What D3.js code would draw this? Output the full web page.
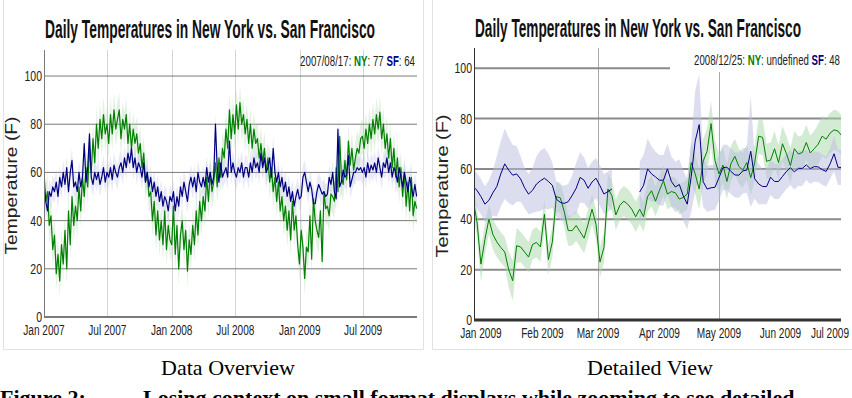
<!DOCTYPE html>
<html>
<head>
<meta charset="utf-8">
<script src="https://cdn.jsdelivr.net/npm/d3@7"></script>
<style>
  body { margin: 0; background: #fff; }
  .narrow { font-family: "Liberation Sans", Arial, sans-serif; }
  .serif { font-family: "Liberation Serif", "Times New Roman", serif; }
</style>
</head>
<body>
<svg id="fig" width="852" height="398"></svg>
<script>
// ---- data ----

// overview: one sample every 5 days from Jan 1 2007
const overviewStart = "2007-01-01";
const overviewStep = 5;
const nyOverview = [
  60, 48, 52, 38, 42, 28,   34, 18, 26, 15, 30, 22,   36, 20, 44, 30, 50, 38,
  46, 40, 54, 44, 58, 50,   62, 54, 70, 60, 74, 64,   80, 70, 82, 74, 84, 76,
  80, 72, 84, 76, 86, 78, 82,   86, 74, 82, 78, 84, 72,   80, 70, 78, 72, 76, 68,
  72, 62, 68, 56, 60, 50,   52, 40, 48, 34, 44, 32,   40, 30, 44, 28, 38, 32,
  30, 46, 26, 38, 20, 34,   40, 28, 36, 19, 32, 26,   38, 30, 44, 34, 48, 40,
  50, 44, 58, 48, 60, 52,   56, 64, 54, 66, 58, 70,   66, 78, 70, 86, 74, 84,
  76, 88, 78, 89, 80, 84, 76,   82, 72, 80, 70, 78, 72,   74, 66, 72, 64, 70, 60,
  66, 56, 62, 52, 58, 48,   56, 44, 50, 40, 46, 36,   44, 32, 48, 36, 42, 30,
  22, 36, 29, 16, 29, 27,   42, 24, 49, 40, 36, 33,   44, 23, 52, 45, 46, 42,
  51, 50, 48, 62, 52, 75,   58, 55, 65, 57, 73, 63,   70, 61, 66, 70, 68, 74,
  75, 70, 78, 72, 80, 74, 82,   76, 84, 78, 85, 74, 80,   70, 76, 66, 74, 62, 70,
  58, 66, 54, 62, 50, 60,   46, 56, 44, 58, 42, 48,   45
];
const sfOverview = [
  55, 48, 44, 52, 50, 54,   52, 56, 50, 58, 54, 60,   55, 62, 52, 60, 65, 54,
  56, 52, 60, 54, 58, 72,   56, 62, 76, 58, 55, 60,   57, 60, 55, 58, 62, 56,
  60, 58, 62, 57, 63, 60, 58,   62, 64, 60, 66, 62, 68,   64, 70, 62, 66, 60, 64,
  62, 58, 64, 56, 60, 54,   58, 52, 56, 50, 54, 48,   52, 46, 50, 48, 44, 50,
  48, 52, 44, 50, 46, 54,   50, 56, 52, 48, 55, 58,   54, 58, 52, 60, 56, 54,
  58, 54, 62, 56, 60, 55,   58, 80, 62, 56, 64, 58,   60, 62, 58, 73, 60, 64,
  60, 58, 62, 60, 64, 58, 62,   62, 58, 64, 60, 66, 62,   64, 60, 68, 62, 66, 60,
  62, 66, 58, 70, 60, 56,   60, 54, 58, 52, 56, 50,   54, 48, 52, 46, 50, 53,
  49, 50, 58, 60, 56, 52,   56, 53, 47, 47, 52, 55,   53, 51, 52, 50, 51, 58,
  55, 60, 52, 49, 78, 54,   56, 61, 58, 59, 67, 54,   57, 60, 60, 62, 61, 62,
  60, 62, 58, 64, 60, 63, 61,   64, 60, 66, 62, 58, 64,   62, 66, 60, 64, 58, 62,
  60, 56, 62, 58, 54, 60,   56, 52, 58, 54, 50, 55,   50
];
// faint error band half-widths in the overview
const nyOverviewBand = 7;
const sfOverviewBand = 5;

// detailed view: one sample every 2 days from Dec 28 2008
const detailStart = "2008-12-28";
const detailStep = 2;
const nyDetail = [
  48, 39, 22.2, 32, 40, 34, 31, 28.8, 27, 20, 15.6, 29.5, 29, 27, 25, 30, 30.8, 29,
  42, 24, 31, 49, 48.5, 43, 35.5, 35.5, 37.5, 35, 32.5, 38, 44, 38, 23, 28.8, 52, 49.5,
  41.7, 45.5, 47.2, 46, 44, 41, 44, 41, 49, 51.3, 47.2, 51.5, 55.3, 50, 51, 50.5, 48, 48.7,
  50, 62.5, 58, 52, 63, 67, 78, 63.2, 58, 61.5, 55, 62, 65, 61, 59.5, 62.5, 56.5, 62.5,
  73, 72.5, 63, 63.5, 68, 62.5, 70, 66, 61.3, 68, 65.9, 66.5, 70.5, 66.3, 68, 69.8, 73, 71.8,
  74.2, 75.5, 75, 73
];
const sfDetail = [
  53, 51.5, 49, 46, 47.5, 50.5, 53, 58, 62, 59.5, 57.5, 58, 56, 52.5, 50, 51.5, 54, 55.3,
  56.3, 55, 53.5, 48, 46.7, 46.3, 47, 49.5, 52.3, 56.6, 55.5, 52.3, 54.8, 56.3, 53.3, 50, 51, 52,
  null, null, null, null, null, null, 50.8, 53.5, 60, 58, 56.8, 55.5, 55.5, 60, 55, 52.8, 53.8, 49.3,
  46, 57, 71, 77.6, 55, 52, 52.5, 52.7, 56.5, 60.5, 60.7, 59, 57.6, 57.5, 59.2, 59.5, 67, 56.1,
  54, 53, 53, 56.7, 55, 55, 57, 59, 60.5, 58.8, 60.2, 60.2, 61.6, 60.1, 60.9, 60.8, 59.7, 59,
  62, 66, 60.6, 60.6
];
const nyDetailErr = [
  6, 6, 7, 6, 6, 6, 6, 6, 6, 7, 8, 7, 6, 6, 6, 6, 6, 6,
  6, 6, 6, 6, 6, 6, 6, 6, 6, 6, 6, 6, 6, 6, 6, 6, 6, 6,
  6, 6, 6, 6, 6, 6, 6, 6, 6, 6, 6, 6, 6, 6, 6, 6, 6, 6,
  6, 8, 8, 8, 9, 9, 9, 8, 8, 7, 7, 7, 7, 7, 7, 7, 7, 7,
  7, 7, 7, 7, 7, 7, 7, 7, 7, 7, 7, 7, 7, 7, 7, 8, 8, 8,
  8, 8, 8, 8
];
const sfDetailErr = [
  7, 7, 7, 7, 8, 9, 12, 13, 14, 13, 12, 11, 9, 8, 8, 9, 11, 12,
  12, 11, 9, 7, 7, 7, 7, 8, 10, 10, 9, 8, 8, 8, 8, 8, 8, 8,
  8, 8, 8, 8, 8, 8, 12, 12, 12, 11, 10, 10, 10, 10, 10, 10, 10, 10,
  10, 14, 20, 20, 10, 9, 9, 9, 9, 9, 9, 9, 9, 9, 9, 9, 22, 8,
  8, 7, 7, 7, 7, 7, 7, 7, 7, 7, 7, 7, 6, 6, 6, 6, 6, 6,
  6, 7, 7, 7
];

const yTicks = [0, 20, 40, 60, 80, 100];
const overviewTicks = ["2007-01-01", "2007-07-01", "2008-01-01", "2008-07-01", "2009-01-01", "2009-07-01"];
const overviewTickLabels = ["Jan 2007", "Jul 2007", "Jan 2008", "Jul 2008", "Jan 2009", "Jul 2009"];
const detailTicks = ["2009-01-01", "2009-02-01", "2009-03-01", "2009-04-01", "2009-05-01", "2009-06-01", "2009-07-01"];
const detailTickLabels = ["Jan 2009", "Feb 2009", "Mar 2009", "Apr 2009", "May 2009", "Jun 2009", "Jul 2009"];
const detailGridTicks = ["2009-03-01", "2009-05-01"];

const title = "Daily Temperatures in New York vs. San Francisco";
const nyColor = "#008000";
const sfColor = "#000080";

const parse = d3.timeParse("%Y-%m-%d");
const parseHour = d3.timeParse("%Y-%m-%d %H");

function toRows(start, step, ny, sf, nyErr, sfErr) {
  const t0 = parse(start);
  return ny.map((v, i) => ({
    date: d3.timeDay.offset(t0, i * step),
    ny: v,
    sf: sf[i],
    nyErr: Array.isArray(nyErr) ? nyErr[i] : nyErr,
    sfErr: Array.isArray(sfErr) ? sfErr[i] : sfErr
  }));
}

// squeeze a text horizontally, the figure uses a condensed face
function squeeze(sel, factor) {
  sel.each(function() {
    const w = this.getComputedTextLength();
    d3.select(this)
      .attr("textLength", w * factor)
      .attr("lengthAdjust", "spacingAndGlyphs");
  });
}

const overviewRows = toRows(overviewStart, overviewStep, nyOverview, sfOverview, nyOverviewBand, sfOverviewBand);
const detailRows = toRows(detailStart, detailStep, nyDetail, sfDetail, nyDetailErr, sfDetailErr);

const svg = d3.select("#fig");

// panel frames
svg.append("path")
  .attr("d", "M3.5,0V349.5H423.5V0")
  .attr("fill", "none").attr("stroke", "#e2e2e2");
svg.append("path")
  .attr("d", "M432.5,0V349.5H852")
  .attr("fill", "none").attr("stroke", "#e2e2e2");

function drawPanel(cfg) {
  const g = svg.append("g");
  const x = d3.scaleTime().domain(cfg.xDomain).range([cfg.left, cfg.right]);
  const y = d3.scaleLinear().domain([0, cfg.yMax]).range([cfg.bottom, cfg.top]);

  const clipId = "clip" + cfg.id;
  svg.append("clipPath").attr("id", clipId)
    .append("rect")
    .attr("x", cfg.left).attr("y", cfg.top)
    .attr("width", cfg.right - cfg.left).attr("height", cfg.bottom - cfg.top);

  // vertical grid
  g.selectAll(".vgrid")
    .data(cfg.gridTicks.map(parse))
    .enter().append("line")
    .attr("x1", d => Math.round(x(d)) + 0.5).attr("x2", d => Math.round(x(d)) + 0.5)
    .attr("y1", cfg.top).attr("y2", cfg.bottom)
    .attr("stroke", cfg.vGridColor).attr("stroke-width", 1);

  // horizontal grid
  g.selectAll(".hgrid")
    .data(yTicks.filter(t => t > 0))
    .enter().append("line")
    .attr("x1", cfg.left).attr("x2", cfg.right)
    .attr("y1", d => y(d)).attr("y2", d => y(d))
    .attr("stroke", cfg.hGridColor).attr("stroke-width", cfg.hGridWidth);

  const plot = g.append("g").attr("clip-path", `url(#${clipId})`);

  const series = [
    { key: "ny", err: "nyErr", color: nyColor, band: cfg.nyBand },
    { key: "sf", err: "sfErr", color: sfColor, band: cfg.sfBand }
  ];

  series.forEach(s => {
    const area = d3.area()
      .defined(d => d[s.key] != null)
      .x(d => x(d.date))
      .y0(d => y(d[s.key] - d[s.err]))
      .y1(d => y(d[s.key] + d[s.err]));
    plot.append("path")
      .datum(cfg.rows)
      .attr("d", area)
      .attr("fill", s.band)
      .attr("fill-opacity", cfg.bandOpacity);
  });

  series.forEach(s => {
    const line = d3.line()
      .defined(d => d[s.key] != null)
      .x(d => x(d.date))
      .y(d => y(d[s.key]));
    plot.append("path")
      .datum(cfg.rows)
      .attr("d", line)
      .attr("fill", "none")
      .attr("stroke", s.color)
      .attr("stroke-width", cfg.lineWidth)
      .attr("stroke-linejoin", "round");
  });

  // legend box hides the grid under it
  if (cfg.legendBox) {
    g.append("rect")
      .attr("x", cfg.legendBox[0]).attr("y", cfg.legendBox[1])
      .attr("width", cfg.legendBox[2]).attr("height", cfg.legendBox[3])
      .attr("fill", "#fff");
  }

  // axes lines
  g.append("line")
    .attr("x1", cfg.left).attr("x2", cfg.right)
    .attr("y1", cfg.bottom).attr("y2", cfg.bottom)
    .attr("stroke", cfg.axisColor).attr("stroke-width", cfg.xAxisWidth);
  g.append("line")
    .attr("x1", cfg.left + 0.5).attr("x2", cfg.left + 0.5)
    .attr("y1", cfg.top).attr("y2", cfg.bottom)
    .attr("stroke", cfg.axisColor).attr("stroke-width", 1);

  // y tick labels
  g.selectAll(".ylab")
    .data(yTicks)
    .enter().append("text")
    .attr("class", "narrow")
    .attr("x", cfg.left - 2)
    .attr("y", d => y(d) + 5)
    .attr("text-anchor", "end")
    .attr("font-size", 14)
    .attr("fill", "#222")
    .text(d => d)
    .call(squeeze, 0.75);

  // x tick labels
  const xl = g.selectAll(".xlab")
    .data(cfg.ticks.map(parse))
    .enter().append("text")
    .attr("class", "narrow")
    .attr("y", cfg.bottom + 18)
    .attr("text-anchor", "middle")
    .attr("font-size", 14)
    .attr("fill", "#222")
    .text((d, i) => cfg.tickLabels[i])
    .call(squeeze, 0.72);
  xl.attr("x", function(d) {
    const w = +this.getAttribute("textLength");
    return Math.min(x(d), cfg.labelMaxX - w / 2);
  });

  // y axis title
  g.append("text")
    .attr("transform", `translate(${cfg.yTitleX}, ${(cfg.top + cfg.bottom) / 2 + 2}) rotate(-90)`)
    .attr("text-anchor", "middle")
    .attr("font-family", "Liberation Sans, Arial, sans-serif")
    .attr("font-size", 17)
    .attr("textLength", cfg.yTitleLen)
    .attr("lengthAdjust", "spacingAndGlyphs")
    .attr("fill", "#222")
    .text("Temperature (F)");

  // title
  g.append("text")
    .attr("class", "narrow")
    .attr("x", cfg.titleX).attr("y", cfg.titleY)
    .attr("font-size", 25).attr("font-weight", "bold")
    .attr("textLength", cfg.titleLen)
    .attr("lengthAdjust", "spacingAndGlyphs")
    .attr("fill", "#111")
    .text(title);

  // legend, squeezed as a whole with a horizontal scale
  const lgWrap = g.append("g");
  const lg = lgWrap.append("text")
    .attr("class", "narrow")
    .attr("text-anchor", "end")
    .attr("font-size", 15)
    .attr("fill", "#222");
  lg.append("tspan").text(cfg.legend[0] + ": ");
  lg.append("tspan").attr("fill", nyColor).attr("font-weight", "bold").text("NY");
  lg.append("tspan").text(": " + cfg.legend[1] + " ");
  lg.append("tspan").attr("fill", sfColor).attr("font-weight", "bold").text("SF");
  lg.append("tspan").text(": " + cfg.legend[2]);
  const sx = cfg.legendLen / lg.node().getBBox().width;
  lgWrap.attr("transform", `translate(${cfg.legendX}, ${cfg.legendY}) scale(${sx}, 1)`);

  // caption under the panel
  svg.append("text")
    .attr("class", "serif")
    .attr("x", cfg.captionX).attr("y", 375)
    .attr("text-anchor", "middle")
    .attr("font-size", 22)
    .attr("fill", "#000")
    .text(cfg.caption);
}

drawPanel({
  id: "overview",
  rows: overviewRows,
  xDomain: [parse("2007-01-01"), parse("2009-12-02")],
  left: 44, right: 417, top: 50, bottom: 317, yMax: 110.8,
  gridTicks: overviewTicks.slice(1),
  ticks: overviewTicks, tickLabels: overviewTickLabels, labelMaxX: 420,
  vGridColor: "#d4d4d4", hGridColor: "#7a7a7a", hGridWidth: 1,
  axisColor: "#7a7a7a", xAxisWidth: 2,
  nyBand: "#9fd09f", sfBand: "#b8b8e8", bandOpacity: 0.3, lineWidth: 1.2,
  yTitleX: 17, yTitleLen: 138,
  titleX: 45, titleY: 38, titleLen: 330,
  legendX: 415, legendY: 66, legendLen: 115, legend: ["2007/08/17", "77", "64"],
  caption: "Data Overview", captionX: 228
});

drawPanel({
  id: "detail",
  rows: detailRows,
  xDomain: [parseHour("2008-12-28 12"), parseHour("2009-07-01 12")],
  left: 474, right: 841, top: 48, bottom: 320, yMax: 108,
  gridTicks: detailGridTicks,
  ticks: detailTicks, tickLabels: detailTickLabels, labelMaxX: 849,
  vGridColor: "#a8a8a8", hGridColor: "#8a8a8a", hGridWidth: 2,
  axisColor: "#333", xAxisWidth: 3,
  nyBand: "#a8d8a8", sfBand: "#bcbce2", bandOpacity: 0.5, lineWidth: 1,
  legendBox: [670, 48, 182, 24],
  yTitleX: 448, yTitleLen: 143,
  titleX: 475, titleY: 37, titleLen: 326,
  legendX: 840, legendY: 65, legendLen: 146, legend: ["2008/12/25", "undefined", "48"],
  caption: "Detailed View", captionX: 650
});

// figure caption, cut by the bottom edge
const cap = svg.append("text")
  .attr("class", "serif")
  .attr("y", 405)
  .attr("font-size", 22)
  .attr("font-weight", "bold")
  .attr("fill", "#000");
cap.append("tspan").attr("x", 0).text("Figure 2:");
cap.append("tspan").attr("x", 143).text("Losing context on small format displays while zooming to see detailed");
</script>
</body>
</html>
